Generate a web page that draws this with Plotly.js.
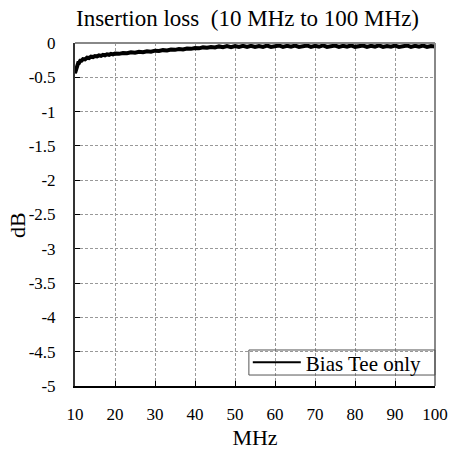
<!DOCTYPE html>
<html>
<head>
<meta charset="utf-8">
<script src="https://cdn.plot.ly/plotly-3.0.1.min.js"></script>
<style>html,body{margin:0;padding:0;background:#fff;}#chart{width:450px;height:450px;}</style>
</head>
<body>
<div id="chart"></div>
<script>
// Frequency (MHz)
const freqMHz = [10, 10.2, 10.4, 10.6, 10.8, 11, 11.3, 11.6, 12, 12.5, 13, 13.5, 14, 14.5, 15, 15.5, 16, 16.5, 17, 17.5, 18, 18.5, 19, 19.5, 20,
  21, 22, 23, 24, 25, 26, 27, 28, 29, 30, 31, 32, 33, 34, 35, 36, 37, 38, 39, 40,
  41, 42, 43, 44, 45, 46, 47, 48, 49, 50, 51, 52, 53, 54, 55, 56, 57, 58, 59, 60,
  61, 62, 63, 64, 65, 66, 67, 68, 69, 70, 71, 72, 73, 74, 75, 76, 77, 78, 79, 80,
  81, 82, 83, 84, 85, 86, 87, 88, 89, 90, 91, 92, 93, 94, 95, 96, 97, 98, 99, 100];
// Insertion loss (dB), Bias Tee only
const lossDB = [-0.44, -0.39, -0.34, -0.33, -0.29, -0.29, -0.26, -0.26, -0.235, -0.24, -0.215, -0.22, -0.2, -0.205, -0.19, -0.195, -0.18, -0.188, -0.172, -0.18, -0.165, -0.172, -0.158, -0.165, -0.155,
  -0.158, -0.145, -0.15, -0.136, -0.142, -0.128, -0.133, -0.12, -0.126, -0.112, -0.116, -0.104, -0.108, -0.096, -0.1, -0.088, -0.093, -0.08, -0.085, -0.072,
  -0.078, -0.064, -0.07, -0.058, -0.066, -0.05, -0.062, -0.046, -0.06, -0.044, -0.058, -0.042, -0.056, -0.04, -0.058, -0.044, -0.056, -0.038, -0.057, -0.043,
  -0.036, -0.056, -0.042, -0.055, -0.037, -0.057, -0.043, -0.036, -0.056, -0.042, -0.055, -0.035, -0.057, -0.044, -0.037, -0.056, -0.042, -0.054, -0.036, -0.056,
  -0.043, -0.037, -0.057, -0.042, -0.055, -0.036, -0.056, -0.043, -0.054, -0.037, -0.057, -0.044, -0.036, -0.056, -0.042, -0.055, -0.037, -0.056, -0.043, -0.05];
const seriesName = 'Bias Tee only';
const yTickVals = [0, -0.5, -1, -1.5, -2, -2.5, -3, -3.5, -4, -4.5, -5];
const yTickText = ["0", "-0.5", "-1", "-1.5", "-2", "-2.5", "-3", "-3.5", "-4", "-4.5", "-5"];
const xTickVals = [10, 20, 30, 40, 50, 60, 70, 80, 90, 100];

const font = "'Liberation Serif', 'Times New Roman', serif";

// thin trace carries the legend entry (its line sample is thin like the reference)
const legendTrace = {
  x: freqMHz, y: lossDB, type: 'scatter', mode: 'lines', name: seriesName,
  line: {color: '#000', width: 2}, showlegend: true
};
// thick noisy-looking curve on top
const mainTrace = {
  x: freqMHz, y: lossDB, type: 'scatter', mode: 'lines', name: seriesName,
  line: {color: '#000', width: 4}, showlegend: false
};

const layout = {
  width: 450, height: 450,
  margin: {l: 75, r: 15, t: 43, b: 64},
  paper_bgcolor: '#fff', plot_bgcolor: '#fff',
  font: {family: font, color: '#000', size: 17},
  title: {text: 'Insertion loss  (10 MHz to 100 MHz)', font: {family: font, size: 23, color: '#000'},
    xref: 'container', x: 0.55, xanchor: 'center', yref: 'container', y: 0.96, yanchor: 'middle'},
  xaxis: {
    range: [10, 100], tickvals: xTickVals, ticks: 'inside', ticklen: 5, tickcolor: '#000',
    showline: true, linecolor: '#000', linewidth: 2, mirror: false,
    showgrid: true, gridcolor: '#999', gridwidth: 1, griddash: '3px,2px',
    zeroline: false, ticklabelstandoff: 12,
    tickfont: {family: font, size: 17, color: '#000'},
    title: {text: 'MHz', font: {family: font, size: 22, color: '#000'}, standoff: 6}
  },
  yaxis: {
    range: [-5, 0], tickvals: yTickVals, ticktext: yTickText, ticks: 'inside', ticklen: 5, tickcolor: '#000',
    showline: true, linecolor: '#333', linewidth: 2, mirror: false,
    showgrid: true, gridcolor: '#999', gridwidth: 1, griddash: '3px,2px',
    zeroline: false, ticklabelstandoff: 14,
    tickfont: {family: font, size: 17, color: '#000'}
  },
  annotations: [
    {text: 'dB', xref: 'paper', yref: 'paper', x: -0.158, y: 0.47, xanchor: 'center', yanchor: 'middle',
     textangle: -90, showarrow: false, font: {family: font, size: 22, color: '#000'}}
  ],
  shapes: [
    {type: 'line', xref: 'x domain', yref: 'y domain', x0: 0, x1: 1, y0: 1, y1: 1, line: {color: '#888', width: 2}},
    {type: 'line', xref: 'x domain', yref: 'y domain', x0: 1, x1: 1, y0: 0, y1: 1, line: {color: '#888', width: 2}},
    // legend frame
    {type: 'rect', xref: 'x domain', yref: 'y domain', x0: 0.483, x1: 1, y0: 0.032, y1: 0.105,
     line: {color: '#555', width: 1}, fillcolor: 'rgba(0,0,0,0)', layer: 'above'}
  ],
  showlegend: true,
  legend: {x: 0.48, xanchor: 'left', y: 0.068, yanchor: 'middle', bgcolor: 'rgba(0,0,0,0)', borderwidth: 0,
    font: {family: font, size: 21, color: '#000'}, itemwidth: 48, tracegroupgap: 0}
};

Plotly.newPlot('chart', [legendTrace, mainTrace], layout, {displayModeBar: false, staticPlot: true});
</script>
</body>
</html>
